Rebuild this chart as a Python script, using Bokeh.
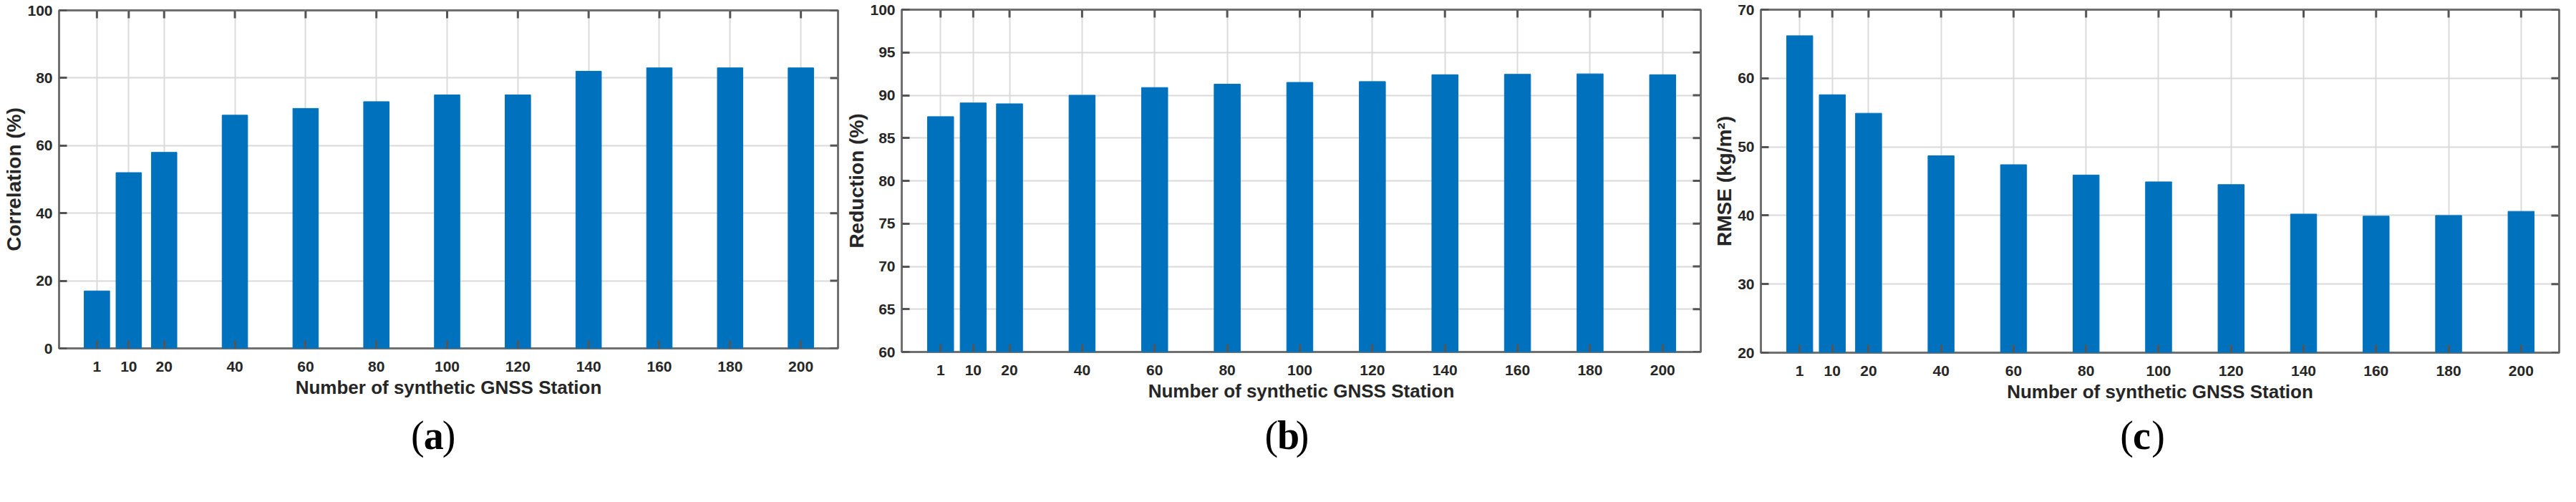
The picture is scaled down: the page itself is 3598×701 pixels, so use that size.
from bokeh.plotting import figure
from bokeh.layouts import row, column
from bokeh.models import FixedTicker, Label
from bokeh.embed import file_html
from bokeh.resources import INLINE

# ---------------- data ----------------
stations = [1, 10, 20, 40, 60, 80, 100, 120, 140, 160, 180, 200]
correlation = [17, 52, 58, 69, 71, 73, 75, 75, 82, 83, 83, 83]
reduction = [87.5, 89.1, 89.0, 90.0, 90.9, 91.3, 91.5, 91.6, 92.4, 92.45, 92.5, 92.4]
rmse = [66.2, 57.6, 54.9, 48.7, 47.4, 45.9, 44.9, 44.5, 40.2, 39.9, 40.0, 40.6]

y_ticks_a = [0, 20, 40, 60, 80, 100]
y_ticks_b = [60, 65, 70, 75, 80, 85, 90, 95, 100]
y_ticks_c = [20, 30, 40, 50, 60, 70]

x_label = "Number of synthetic GNSS Station"
y_label_a = "Correlation (%)"
y_label_b = "Reduction (%)"
y_label_c = "RMSE (kg/m²)"
panel_letters = ["a", "b", "c"]

# ---------------- style ----------------
BAR = "#0072BD"
TXT = "#262626"
TICK = "#555555"
FONT = "Liberation Sans"
SERIF = "Liberation Serif"
X_RANGE = (-9.7, 210.5)
BAR_W = 7.2
TICK_LEN = 11

FIG_Y0, MAIN_Y1, FIG_Y1 = 8, 580, 692
LETTER_Y = 615


def make_panel(values, yr, yticks, ylab, letter, fig_x0, fig_x1, fl, fr, ft, fb,
               letter_x):
    p = figure(
        frame_width=fr - fl, frame_height=fb - ft,
        min_border_left=fl - fig_x0, min_border_right=fig_x1 - fr,
        min_border_top=ft - FIG_Y0, min_border_bottom=MAIN_Y1 - fb,
        x_range=X_RANGE, y_range=yr,
        output_backend="svg", toolbar_location=None,
    )
    p.background_fill_color = "white"
    p.border_fill_color = "white"
    p.outline_line_color = "#707070"
    p.outline_line_width = 3

    sx = (X_RANGE[1] - X_RANGE[0]) / (fr - fl)
    sy = (yr[1] - yr[0]) / (fb - ft)

    p.vbar(x=stations, top=values, bottom=yr[0], width=BAR_W,
           fill_color=BAR, line_color=BAR)

    xt = FixedTicker(ticks=stations)
    yt = FixedTicker(ticks=yticks)
    p.xaxis.ticker = xt
    p.yaxis.ticker = yt
    p.xgrid.ticker = xt
    p.ygrid.ticker = yt
    for g in (p.xgrid, p.ygrid):
        g.grid_line_color = "#dadada"
        g.grid_line_width = 2

    for ax in (p.xaxis[0], p.yaxis[0]):
        ax.axis_line_color = None
        ax.major_tick_in = TICK_LEN
        ax.major_tick_out = 0
        ax.major_tick_line_color = TICK
        ax.major_tick_line_width = 3
        ax.minor_tick_line_color = None
        ax.major_label_text_font = FONT
        ax.major_label_text_font_size = "21px"
        ax.major_label_text_font_style = "bold"
        ax.major_label_text_color = TXT
        ax.axis_label_text_font = FONT
        ax.axis_label_text_font_style = "bold"
        ax.axis_label_text_color = TXT

    p.xaxis.major_label_standoff = 18
    p.yaxis.major_label_standoff = 9
    p.xaxis.axis_label = x_label
    p.xaxis.axis_label_text_font_size = "26px"
    p.xaxis.axis_label_standoff = 4
    p.yaxis.axis_label = ylab
    p.yaxis.axis_label_text_font_size = "28px"
    p.yaxis.axis_label_standoff = 0

    # inward ticks on the top and right edges
    p.segment(x0=stations, y0=[yr[1]] * len(stations), x1=stations,
              y1=[yr[1] - TICK_LEN * sy] * len(stations),
              line_color=TICK, line_width=3)
    p.segment(x0=[X_RANGE[1]] * len(yticks), y0=yticks,
              x1=[X_RANGE[1] - TICK_LEN * sx] * len(yticks), y1=yticks,
              line_color=TICK, line_width=3)

    # caption strip below the chart with "(x)", bold letter
    w = fig_x1 - fig_x0
    h = FIG_Y1 - MAIN_Y1
    q = figure(width=w, height=h, x_range=(0, w), y_range=(0, h),
               x_axis_location=None, y_axis_location=None,
               min_border=0, output_backend="svg", toolbar_location=None)
    q.grid.visible = False
    q.outline_line_color = None
    q.background_fill_color = "white"
    q.border_fill_color = "white"
    cx = letter_x - fig_x0
    cy = h - (LETTER_Y - MAIN_Y1)
    for txt, off, style in (("(", -34, "normal"), (letter, -15, "bold"), (")", 13, "normal")):
        q.add_layout(Label(
            x=cx + off, y=cy, text=txt, text_align="left",
            text_baseline="middle", text_font=SERIF, text_font_size="56px",
            text_font_style=style, text_color="black",
        ))
    return column(p, q, spacing=0)


pa = make_panel(correlation, (0, 100), y_ticks_a, y_label_a, panel_letters[0],
                8, 1181, 90, 1178, 22, 494, 572)
pb = make_panel(reduction, (60, 100), y_ticks_b, y_label_b, panel_letters[1],
                1181, 2398, 1267, 2383, 21, 499, 1768)
pc = make_panel(rmse, (20, 70), y_ticks_c, y_label_c, panel_letters[2],
                2398, 3589, 2467, 3582, 21, 500, 2968)

layout = row(pa, pb, pc, spacing=0)
open("out.html", "w").write(file_html(layout, INLINE))
